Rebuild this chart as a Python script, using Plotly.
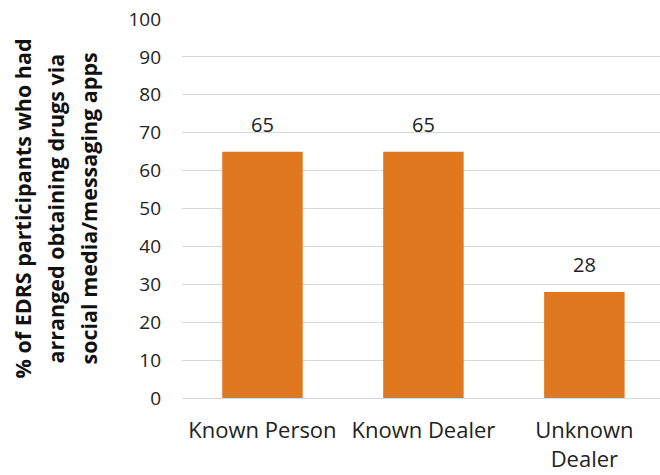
import plotly.graph_objects as go

categories = ["Known Person", "Known Dealer", "Unknown Dealer"]
tick_labels = ["Known Person", "Known Dealer", "Unknown<br>Dealer"]
values = [65, 65, 28]
y_ticks = [0, 10, 20, 30, 40, 50, 60, 70, 80, 90, 100]
title_lines = [
    "% of EDRS participants who had",
    "arranged obtaining drugs via",
    "social media/messaging apps",
]

FONT = "Open Sans, Noto Sans, sans-serif"
BAR = "#E0781F"
TEXT = "#222222"

fig = go.Figure(
    go.Bar(
        x=categories,
        y=values,
        marker=dict(color=BAR, line=dict(width=0)),
        width=0.5,
    )
)

# value labels above each bar
for c, v in zip(categories, values):
    fig.add_annotation(
        x=c, y=v, text=str(v), showarrow=False,
        yanchor="bottom", yshift=12,
        font=dict(family=FONT, size=20, color=TEXT),
    )

# three-line y-axis title
for i, line in enumerate(title_lines):
    fig.add_annotation(
        xref="paper", yref="paper",
        x=(22 + 33 * i - 182) / 478, y=0.5,
        xanchor="center", yanchor="middle",
        text=f"<b>{line}</b>", textangle=-90, showarrow=False,
        font=dict(family=FONT, size=21.5, color="#111111"),
    )

fig.update_layout(
    width=660, height=475,
    margin=dict(l=182, r=0, t=19, b=77),
    paper_bgcolor="white", plot_bgcolor="white",
    showlegend=False,
    font=dict(family=FONT, size=20, color=TEXT),
    bargap=0.5,
)
fig.update_xaxes(
    tickmode="array", tickvals=categories, ticktext=tick_labels,
    range=[-0.5, 2.47], showgrid=False, showline=False, ticks="",
    ticklabelstandoff=17,
    tickfont=dict(family=FONT, size=22, color=TEXT),
)
fig.update_yaxes(
    range=[0, 100], tickvals=y_ticks,
    showgrid=True, gridcolor="#D9D9D9", gridwidth=1,
    zeroline=True, zerolinecolor="#D9D9D9", zerolinewidth=1,
    showline=False, ticks="", ticklabelstandoff=20,
    tickfont=dict(family=FONT, size=19, color=TEXT),
)

fig.write_html("out.html")
